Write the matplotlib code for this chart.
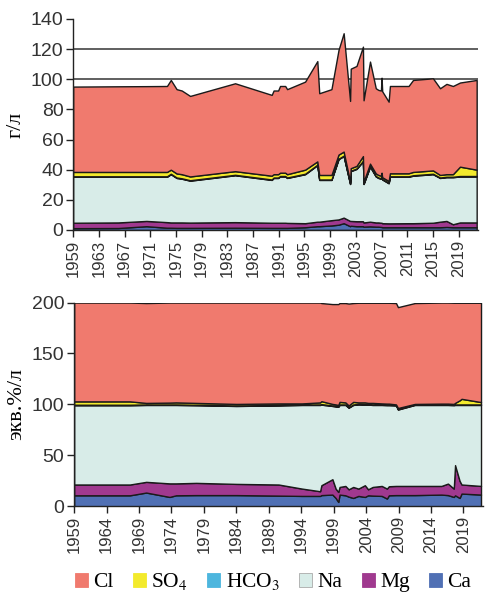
import matplotlib
matplotlib.use("Agg")
import matplotlib.pyplot as plt
from matplotlib.patches import Patch
import numpy as np

plt.rcParams['font.family'] = ['Liberation Sans', 'DejaVu Sans']
plt.rcParams['mathtext.fontset'] = 'stix'

ions = ['Ca', 'Mg', 'Na', 'HCO3', 'SO4', 'Cl']
legend_labels = ['Cl', 'SO$_4$', 'HCO$_3$', 'Na', 'Mg', 'Ca']
colors = {'Cl': '#F07A6E', 'SO4': '#F3EA2C', 'HCO3': '#4DB6DE',
          'Na': '#D8ECE8', 'Mg': '#A0398F', 'Ca': '#5070B4'}

# ---- top chart: g/l ----
years_gl = [1959.0, 1966.0, 1970.4, 1973.6, 1974.2, 1975.1, 1975.9, 1977.2, 1984.2,
            1989.9, 1990.2, 1990.9, 1991.2, 1992.0, 1992.3, 1995.1, 1997.0, 1997.3,
            1999.2, 2000.3, 2001.1, 2002.1, 2002.2, 2003.1, 2004.1, 2004.2, 2005.2,
            2006.1, 2006.5, 2006.9, 2007.0, 2007.1, 2008.1, 2008.3, 2011.2, 2011.9,
            2015.0, 2016.1, 2017.1, 2018.1, 2019.2, 2021.8]
ca_gl = [1.2, 1.3, 2.5, 1.5, 1.5, 1.4, 1.4, 1.4, 1.5, 1.4, 1.4, 1.4, 1.4, 1.4, 1.4, 1.8,
         2.5, 2.5, 3.0, 3.5, 4.5, 2.5, 2.8, 2.5, 2.5, 2.2, 2.4, 2.2, 2.2, 2.0, 2.0, 1.8,
         1.8, 1.8, 1.8, 1.8, 1.8, 1.8, 2.0, 1.8, 1.8, 1.8]
mg_gl = [3.6, 3.7, 3.5, 3.7, 3.5, 3.6, 3.6, 3.5, 3.7, 3.4, 3.4, 3.4, 3.4, 3.4, 3.3, 2.7,
         3.0, 3.0, 3.5, 3.5, 3.7, 3.5, 3.2, 3.3, 3.3, 2.8, 3.1, 2.8, 2.8, 2.8, 2.8, 2.7,
         2.6, 2.6, 2.7, 2.7, 3.0, 3.7, 4.0, 2.0, 3.2, 3.2]
na_gl = [30.5, 30.3, 29.3, 30.1, 32.0, 29.5, 29.0, 27.8, 31.1, 28.4, 29.7, 29.7, 30.7,
         30.7, 29.8, 32.5, 37.5, 27.7, 26.7, 40.0, 40.8, 24.5, 33.0, 34.7, 39.7, 25.5,
         36.5, 30.5, 29.5, 29.2, 31.2, 29.0, 26.6, 30.9, 30.8, 31.5, 32.2, 29.0, 29.0,
         31.2, 30.5, 30.5]
hco3_gl = [0.3] * len(years_gl)
so4_gl = [2.9, 2.9, 2.9, 2.9, 2.7, 2.7, 2.7, 2.5, 2.4, 2.5, 2.2, 2.2, 2.2, 2.2, 2.2, 2.7,
          2.2, 3.0, 3.0, 2.7, 2.7, 1.2, 1.7, 1.7, 3.2, 1.2, 1.7, 1.7, 1.7, 1.7, 1.7, 1.2,
          1.2, 2.0, 2.0, 2.2, 2.2, 1.7, 1.7, 1.7, 6.2, 4.2]
cl_gl = [56.6, 56.8, 56.9, 57.0, 59.5, 55.9, 55.5, 53.4, 58.3, 53.6, 55.5, 55.5, 57.5,
         57.5, 56.4, 58.4, 66.5, 54.2, 56.9, 69.4, 78.5, 53.6, 66.0, 66.3, 72.6, 54.0,
         67.7, 56.5, 56.4, 56.5, 63.0, 57.0, 52.6, 57.9, 57.9, 61.0, 61.1, 57.5, 59.9,
         58.5, 55.8, 59.5]

# ---- bottom chart: eq %/l ----
years_eq = [1959.0, 1967.6, 1970.1, 1973.7, 1974.7, 1977.8, 1984.0, 1990.5, 1994.1,
            1996.9, 1997.1, 1998.8, 1999.3, 1999.7, 1999.9, 2000.8, 2001.3, 2002.0,
            2002.8, 2003.8, 2004.3, 2005.0, 2006.4, 2007.2, 2007.5, 2008.6, 2008.9,
            2011.5, 2015.6, 2016.6, 2017.5, 2017.7, 2018.4, 2018.7, 2021.7]
ca_eq = [10.8, 10.8, 13.5, 9.2, 10.8, 11.0, 11.0, 10.5, 10.2, 10.2, 11.0, 11.5, 8.2, 4.3,
         11.5, 10.8, 9.5, 8.2, 10.2, 9.2, 10.8, 10.5, 10.2, 7.6, 10.8, 11.0, 11.0, 11.0,
         11.5, 11.0, 9.2, 10.8, 8.2, 12.5, 11.5]
mg_eq = [10.6, 10.6, 10.5, 13.3, 11.7, 12.0, 11.0, 10.9, 7.2, 4.6, 9.7, 15.1, 9.2, 9.8,
         7.5, 9.2, 7.2, 10.8, 7.2, 11.5, 5.9, 8.5, 9.8, 9.8, 8.9, 9.0, 9.0, 9.0, 8.5, 11.3,
         8.2, 29.6, 16.8, 8.9, 8.5]
na_eq = [77.8, 77.8, 75.5, 77.0, 77.0, 76.2, 76.5, 77.6, 82.1, 84.7, 79.1, 71.9, 80.6,
         83.6, 80.5, 79.5, 80.1, 80.5, 82.6, 79.1, 83.1, 80.5, 79.5, 81.9, 79.6, 79.0,
         75.0, 79.5, 79.5, 77.2, 81.9, 59.1, 74.5, 78.1, 79.5]
hco3_eq = [0.5] * len(years_eq)
so4_eq = [3.3, 3.3, 1.5, 1.8, 2.0, 1.8, 1.5, 1.5, 1.0, 2.0, 2.9, 1.5, 1.5, 1.3, 2.5, 2.0,
          1.7, 2.5, 1.5, 1.7, 1.2, 1.5, 1.0, 1.0, 1.0, 0.5, 1.0, 0.5, 0.8, 0.8, 0.7, 1.5,
          4.0, 5.5, 2.3]
cl_eq = [97.0, 97.0, 98.0, 98.2, 98.0, 98.5, 99.5, 99.0, 99.0, 98.0, 96.3, 98.0, 98.5,
         99.0, 97.0, 97.5, 100.0, 97.0, 97.8, 97.8, 98.3, 98.3, 98.8, 99.0, 99.0, 99.5,
         99.0, 99.0, 99.2, 99.2, 99.3, 98.3, 95.8, 94.3, 97.5]

ticks_gl_x = list(range(1959, 2020, 4))
ticks_eq_x = list(range(1959, 2020, 5))
ticks_gl_y = list(range(0, 141, 20))
ticks_eq_y = list(range(0, 201, 50))

fig = plt.figure(figsize=(5.01, 6.10), dpi=100)
ax1 = fig.add_axes([0.146, 0.623, 0.808, 0.346])
ax2 = fig.add_axes([0.148, 0.170, 0.816, 0.334])

def draw(ax, years, series, xticks, yticks, ylim, ylabel):
    ax.stackplot(years, *series, colors=[colors[k] for k in ions],
                 edgecolor='#1a1a1a', linewidth=1.0, zorder=2)
    ax.set_xlim(1959, 2022)
    ax.set_ylim(*ylim)
    ax.set_xticks(xticks)
    ax.set_xticklabels([str(t) for t in xticks], rotation=90, fontsize=12, color='#333333')
    ax.set_yticks(yticks)
    ax.set_yticklabels([str(t) for t in yticks], fontsize=14, color='#333333')
    for s in ['top', 'right']:
        ax.spines[s].set_visible(False)
    for s in ['left', 'bottom']:
        ax.spines[s].set_linewidth(1.0)
        ax.spines[s].set_color('#222222')
    ax.tick_params(axis='both', direction='out', length=5, width=1, color='#222222', pad=2)
    ax.set_ylabel(ylabel, family=['Liberation Serif', 'DejaVu Serif'], fontsize=16, labelpad=4)

draw(ax1, years_gl, [ca_gl, mg_gl, na_gl, hco3_gl, so4_gl, cl_gl],
     ticks_gl_x, ticks_gl_y, (0, 140), 'г/л')
for yv in [100, 120]:
    ax1.axhline(yv, color='#444444', linewidth=1.2, zorder=1)

draw(ax2, years_eq, [ca_eq, mg_eq, na_eq, hco3_eq, so4_eq, cl_eq],
     ticks_eq_x, ticks_eq_y, (0, 200), 'экв.%/л')

handle_keys = ['Cl', 'SO4', 'HCO3', 'Na', 'Mg', 'Ca']
handles = [Patch(facecolor=colors[k], edgecolor=('#aaaaaa' if k == 'Na' else colors[k]),
                 linewidth=0.6) for k in handle_keys]
fig.legend(handles, legend_labels, loc='center', bbox_to_anchor=(0.545, 0.046), ncol=6,
           frameon=False, handlelength=0.6, handleheight=0.6, handletextpad=0.25,
           columnspacing=0.9, prop={'family': ['Liberation Serif', 'DejaVu Serif'], 'size': 15.5})

fig.savefig('out.png', dpi=100, facecolor='white')
